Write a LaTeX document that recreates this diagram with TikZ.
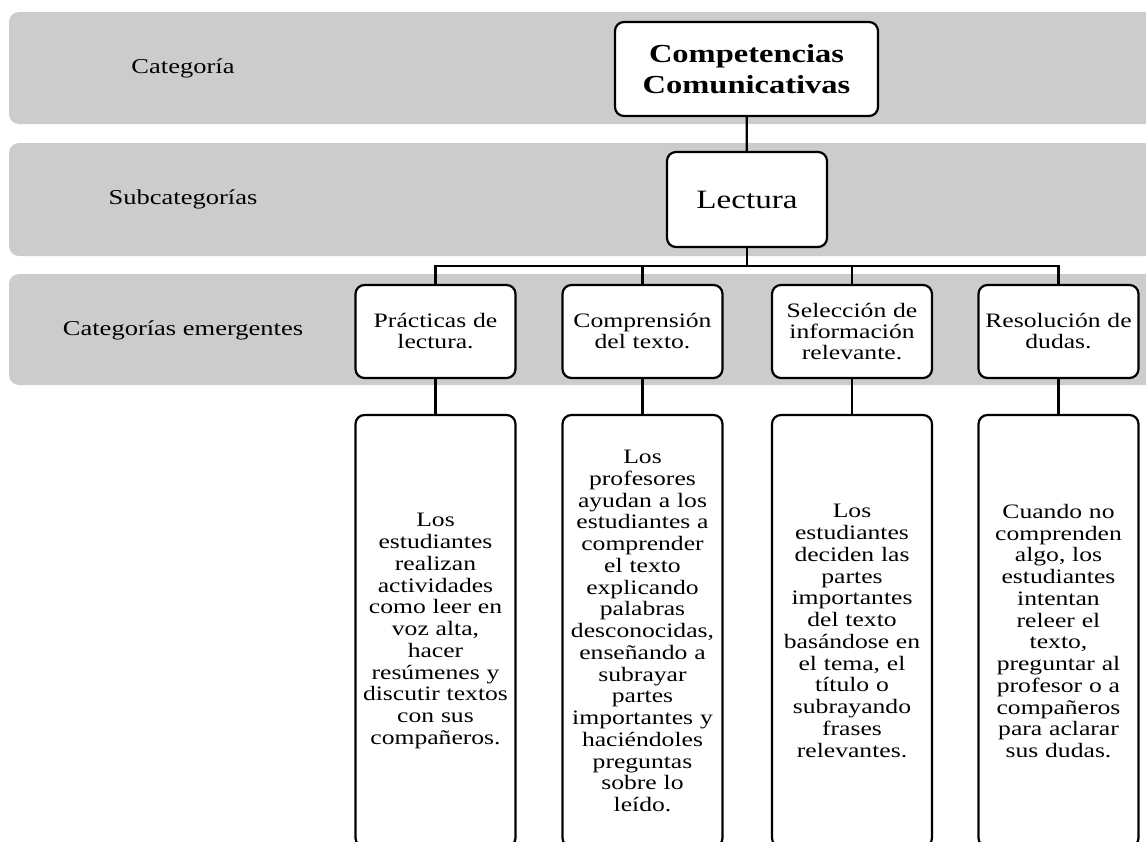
\documentclass[tikz,border=0pt]{standalone}
\usepackage{fontspec}
\setmainfont[FakeStretch=1.25]{Liberation Serif}
\definecolor{bandgray}{RGB}{204,204,204}

\begin{document}
\begin{tikzpicture}[x=1pt, y=-1pt,
    band/.style={fill=bandgray, rounded corners=10pt},
    box/.style={draw=black, line width=2.2pt, fill=white, rounded corners=9pt,
      inner sep=0pt, align=center},
    catbox/.style={box, text width=160pt, minimum height=93pt,
      font=\fontsize{20.5}{21}\selectfont},
    infobox/.style={box, text width=160pt, minimum height=432pt,
      font=\fontsize{20.5}{21.75}\selectfont},
    rowlabel/.style={font=\fontsize{21.2}{26}\selectfont},
    wire/.style={line width=2.2pt}]
      \useasboundingbox (0,0) rectangle (1146,841);
      \clip (0,0) rectangle (1146,841);

      % bands
      \fill[band] (9,12) rectangle (1170,124);
      \fill[band] (9,143) rectangle (1170,256);
      \fill[band] (9,274) rectangle (1170,385);

      \node[rowlabel, at={(183,68)}] (lab1) {Categoría};
      \node[rowlabel, at={(183,199)}] (lab2) {Subcategorías};
      \node[rowlabel, at={(183,330)}] (lab3) {Categorías emergentes};

      % tree
      \node[box, text width=263pt, minimum height=94pt,
        font=\bfseries\fontsize{26}{31}\selectfont, at={(746.5,69)}] (comp) {Competencias\\Comunicativas};
      \node[box, text width=160pt, minimum height=95pt,
        font=\fontsize{26.5}{31}\selectfont, at={(747,199.5)}] (lect) {Lectura};

      \node[catbox, at={(435.5,331.5)}] (cat1) {Prácticas de\\lectura.};
      \node[catbox, at={(642.5,331.5)}] (cat2) {Comprensión\\del texto.};
      \node[catbox, at={(852,331.5)}] (cat3) {Selección de\\información\\relevante.};
      \node[catbox, at={(1058.5,331.5)}] (cat4) {Resolución de\\dudas.};

      \node[infobox, at={(435.5,631)}] (info1) {Los\\estudiantes\\realizan\\actividades\\como leer en\\voz alta,\\hacer\\resúmenes y\\discutir textos\\con sus\\compañeros.};
      \node[infobox, at={(642.5,631)}] (info2) {Los\\profesores\\ayudan a los\\estudiantes a\\comprender\\el texto\\explicando\\palabras\\desconocidas,\\enseñando a\\subrayar\\partes\\importantes y\\haciéndoles\\preguntas\\sobre lo\\leído.};
      \node[infobox, at={(852,631)}] (info3) {Los\\estudiantes\\deciden las\\partes\\importantes\\del texto\\basándose en\\el tema, el\\título o\\subrayando\\frases\\relevantes.};
      \node[infobox, at={(1058.5,631)}] (info4) {Cuando no\\comprenden\\algo, los\\estudiantes\\intentan\\releer el\\texto,\\preguntar al\\profesor o a\\compañeros\\para aclarar\\sus dudas.};

      \draw[wire] (comp) -- (lect);
      \foreach \n in {1,...,4} {
        \draw[wire] (lect.south) -- ++(0,18) -| (cat\n.north);
        \draw[wire] (cat\n) -- (info\n);
      }
    \end{tikzpicture}
\end{document}
